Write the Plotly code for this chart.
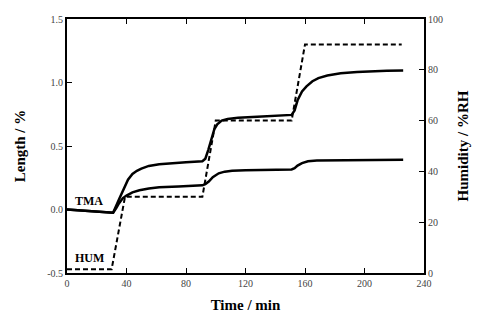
import plotly.graph_objects as go

# Time axis (min)
tma_upper_t = [0, 10, 20, 30, 31, 35, 38, 41, 44, 47, 50, 55, 62, 70, 80, 91, 93, 95, 97, 99, 101,
               104, 108, 115, 128, 140, 151, 153, 155, 158, 161, 165, 169, 175, 184, 195, 206, 215, 226]
tma_upper_v = [0.0, -0.008, -0.016, -0.024, -0.026, 0.08, 0.16, 0.235, 0.28, 0.305, 0.322, 0.343,
               0.356, 0.365, 0.372, 0.38, 0.40, 0.47, 0.56, 0.63, 0.67, 0.70, 0.713, 0.722, 0.73,
               0.738, 0.745, 0.78, 0.86, 0.93, 0.97, 1.01, 1.035, 1.055, 1.072, 1.083, 1.09, 1.093,
               1.095]

tma_lower_t = [0, 10, 20, 30, 31, 33, 35, 37.6, 40, 44, 48.7, 55, 62, 75, 91, 93, 95.3, 98, 102,
               106, 111, 120, 135, 151, 153, 155, 158, 162, 168, 182, 200, 226]
tma_lower_v = [0.0, -0.008, -0.016, -0.024, -0.026, 0.01, 0.05, 0.09, 0.11, 0.135, 0.152, 0.165,
               0.175, 0.182, 0.19, 0.20, 0.22, 0.255, 0.285, 0.298, 0.306, 0.31, 0.313, 0.315,
               0.325, 0.346, 0.365, 0.38, 0.385, 0.388, 0.39, 0.392]

hum_t = [0, 30, 39, 91, 100, 151, 160, 225]
hum_v = [1.5, 1.5, 30, 30, 60, 60, 90, 90]

x_ticks = [0, 40, 80, 120, 160, 200, 240]
y_ticks = [-0.5, 0.0, 0.5, 1.0, 1.5]
y_ticklabels = ["-0.5", "0.0", "0.5", "1.0", "1.5"]
y2_ticks = [0, 20, 40, 60, 80, 100]

serif = "Liberation Serif"
tickfont = dict(family=serif, size=10, color="#444")
titlefont = dict(family=serif, size=15, color="black")

fig = go.Figure()
fig.add_trace(go.Scatter(x=tma_upper_t, y=tma_upper_v, mode="lines",
                         line=dict(color="black", width=2.5), showlegend=False))
fig.add_trace(go.Scatter(x=tma_lower_t, y=tma_lower_v, mode="lines",
                         line=dict(color="black", width=2.5), showlegend=False))
fig.add_trace(go.Scatter(x=hum_t, y=hum_v, mode="lines", yaxis="y2",
                         line=dict(color="black", width=2, dash="5px,3px"), showlegend=False))

fig.update_layout(
    width=480, height=324,
    margin=dict(l=67, r=56, t=19, b=51),
    paper_bgcolor="white", plot_bgcolor="white",
    xaxis=dict(range=[0, 240], tickvals=x_ticks, ticks="inside", ticklen=5, tickwidth=1,
               tickcolor="black", showline=True, linecolor="black", linewidth=2,
               mirror="ticks", showgrid=False, zeroline=False, tickfont=tickfont,
               title=dict(text="<b>Time / min</b>", font=titlefont, standoff=11)),
    yaxis=dict(range=[-0.5, 1.5], tickvals=y_ticks, ticktext=y_ticklabels, ticks="inside",
               ticklen=5, tickwidth=1, tickcolor="black", showline=True, linecolor="black",
               linewidth=2, showgrid=False, zeroline=False, tickfont=tickfont,
               title=dict(text="<b>Length / %</b>", font=titlefont, standoff=18)),
    yaxis2=dict(range=[0, 100], tickvals=y2_ticks, overlaying="y", side="right",
                ticks="inside", ticklen=5, tickwidth=1, tickcolor="black", showline=True,
                linecolor="black", linewidth=2, showgrid=False, zeroline=False,
                tickfont=tickfont,
                title=dict(text="<b>Humidity / %RH</b>", font=titlefont, standoff=15)),
    annotations=[
        dict(x=4, y=0.065, xref="x", yref="y", text="<b>TMA</b>", showarrow=False,
             xanchor="left", yanchor="middle", font=dict(family=serif, size=12, color="black")),
        dict(x=4, y=-0.38, xref="x", yref="y", text="<b>HUM</b>", showarrow=False,
             xanchor="left", yanchor="middle", font=dict(family=serif, size=12, color="black")),
    ],
)

fig.write_html("out.html")
